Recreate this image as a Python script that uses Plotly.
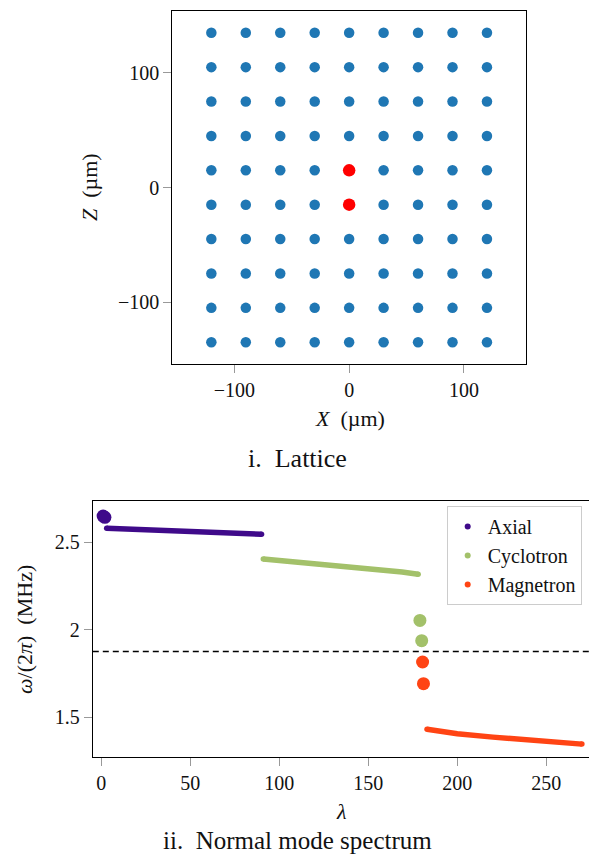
import plotly.graph_objects as go

# ---------------- data ----------------
# Lattice (µm)
lattice_x = [-120, -90, -60, -30, 0, 30, 60, 90, 120]
lattice_z = [-135, -105, -75, -45, -15, 15, 45, 75, 105, 135]
highlight_x = [0, 0]
highlight_z = [15, -15]

# Normal mode spectrum (MHz)
axial_dot_lam = [1, 2]
axial_dot_w = [2.650, 2.643]
axial_line_lam = [3, 25, 46, 70, 90]
axial_line_w = [2.580, 2.570, 2.562, 2.553, 2.546]

cyc_line_lam = [91, 112, 133, 152, 169, 178]
cyc_line_w = [2.404, 2.386, 2.367, 2.349, 2.330, 2.317]
cyc_dot_lam = [179, 180]
cyc_dot_w = [2.053, 1.937]

mag_dot_lam = [180.5, 181]
mag_dot_w = [1.815, 1.691]
mag_line_lam = [183, 190, 200, 220, 240, 260, 270]
mag_line_w = [1.430, 1.417, 1.404, 1.385, 1.368, 1.353, 1.345]

threshold = 1.875

series_names = ["Axial", "Cyclotron", "Magnetron"]
series_colors = ["#3f0a8a", "#a3c16a", "#ff4414"]

# ---------------- figure ----------------
W, H = 589, 856
FONT = "Liberation Serif"

fig = go.Figure()

grid_x = [x for z in lattice_z for x in lattice_x]
grid_z = [z for z in lattice_z for x in lattice_x]
fig.add_trace(go.Scatter(x=grid_x, y=grid_z, mode="markers",
                         marker=dict(size=10.5, color="#1f77b4"),
                         showlegend=False, xaxis="x", yaxis="y"))
fig.add_trace(go.Scatter(x=highlight_x, y=highlight_z, mode="markers",
                         marker=dict(size=12.5, color="#ff0000"),
                         showlegend=False, xaxis="x", yaxis="y"))

LW = 5.5
lines = [(axial_line_lam, axial_line_w, 0), (cyc_line_lam, cyc_line_w, 1),
         (mag_line_lam, mag_line_w, 2)]
for lam, w, i in lines:
    fig.add_trace(go.Scatter(x=lam, y=w, mode="lines",
                             line=dict(color=series_colors[i], width=LW),
                             showlegend=False, xaxis="x2", yaxis="y2"))
    # round caps at both ends of the band
    fig.add_trace(go.Scatter(x=[lam[0], lam[-1]], y=[w[0], w[-1]], mode="markers",
                             marker=dict(size=LW, color=series_colors[i],
                                         line=dict(width=0)),
                             showlegend=False, xaxis="x2", yaxis="y2"))
dots = [(axial_dot_lam, axial_dot_w, 0), (cyc_dot_lam, cyc_dot_w, 1),
        (mag_dot_lam, mag_dot_w, 2)]
for lam, w, i in dots:
    fig.add_trace(go.Scatter(x=lam, y=w, mode="markers",
                             marker=dict(size=13, color=series_colors[i]),
                             showlegend=False, xaxis="x2", yaxis="y2"))
for name, col in zip(series_names, series_colors):
    fig.add_trace(go.Scatter(x=[None], y=[None], mode="markers", name=name,
                             marker=dict(size=6, color=col),
                             xaxis="x2", yaxis="y2"))

fig.add_shape(type="line", xref="x2 domain", x0=0, x1=1, yref="y2",
              y0=threshold, y1=threshold,
              line=dict(color="black", width=1.3, dash="6px,4px"))

tickfont = dict(family=FONT, size=20, color="#111")
common = dict(showgrid=False, zeroline=False, showline=True, linecolor="black",
              linewidth=1, ticks="outside", tickcolor="#999", ticklen=8,
              tickwidth=1, tickfont=tickfont)

def px_x(p):
    return p / W

def px_y(p):
    return 1 - p / H

fig.update_layout(
    width=W, height=H,
    margin=dict(l=0, r=0, t=0, b=0),
    paper_bgcolor="white", plot_bgcolor="white",
    xaxis=dict(domain=[px_x(172.3), px_x(526)], range=[-154, 154],
               tickvals=[-100, 0, 100], mirror=True, anchor="y", **common),
    yaxis=dict(domain=[px_y(364), px_y(11)], range=[-154, 154],
               tickvals=[-100, 0, 100], mirror=True, anchor="x", **common),
    xaxis2=dict(domain=[px_x(92.8), 1.0], range=[-4.8, 274],
                tickvals=[0, 50, 100, 150, 200, 250], mirror=True,
                anchor="y2", **common),
    yaxis2=dict(domain=[px_y(756.7), px_y(500.7)], range=[1.273, 2.738],
                tickvals=[1.5, 2, 2.5], ticktext=["1.5", "2", "2.5"],
                mirror=False, anchor="x2", **common),
    legend=dict(x=px_x(446.7), y=px_y(506), xanchor="left", yanchor="top",
                bgcolor="white", bordercolor="#cccccc", borderwidth=1,
                font=dict(family=FONT, size=20, color="#111"),
                itemwidth=30, tracegroupgap=0),
    showlegend=True,
)

ann_font = dict(family=FONT, size=22, color="#111")
anns = [
    dict(text="<i>X</i>  (µm)", x=px_x(350), y=px_y(419), font=ann_font),
    dict(text="<i>Z</i>  (µm)", x=px_x(89), y=px_y(187), font=ann_font, textangle=-90),
    dict(text="i.  Lattice", x=px_x(297.5), y=px_y(458),
         font=dict(family=FONT, size=26, color="#111")),
    dict(text="<i>λ</i>", x=px_x(341.5), y=px_y(811), font=ann_font),
    dict(text="<i>ω</i>/(2<i>π</i>)  (MHz)", x=px_x(24), y=px_y(630),
         font=ann_font, textangle=-90),
    dict(text="ii.  Normal mode spectrum", x=px_x(297), y=px_y(840),
         font=dict(family=FONT, size=25, color="#111")),
]
for a in anns:
    fig.add_annotation(xref="paper", yref="paper", xanchor="center",
                       yanchor="middle", showarrow=False, **a)

fig.write_html(
    "out.html",
    config={"displayModeBar": False},
    post_script="document.body.style.margin='0';document.body.style.overflow='hidden';",
)
